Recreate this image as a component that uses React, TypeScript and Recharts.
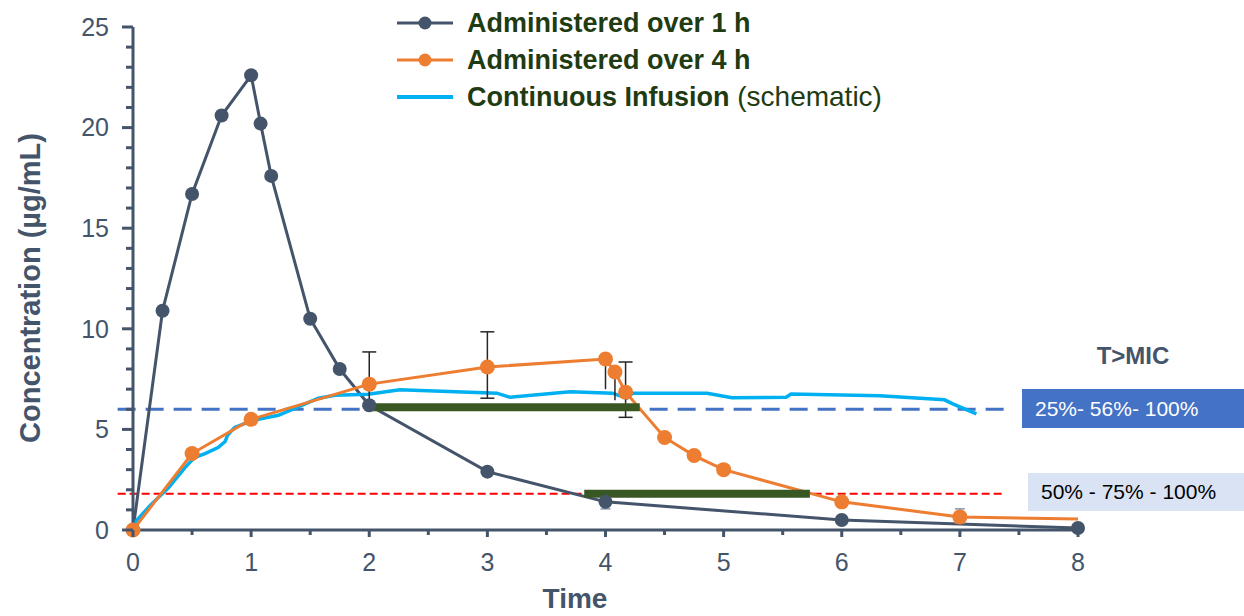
import React from 'react';
import { LineChart, Line, XAxis, YAxis, ReferenceLine, ErrorBar } from 'recharts';

// 1 h infusion
const oneHourTime = [0, 0.25, 0.5, 0.75, 1, 1.08, 1.17, 1.5, 1.75, 2, 3, 4, 6, 8];
const oneHourConc = [0, 10.9, 16.7, 20.6, 22.6, 20.2, 17.6, 10.5, 8.0, 6.2, 2.9, 1.4, 0.5, 0.1];
const oneHourErr = [null, null, null, null, null, null, null, null, null, null, null, [0.35, 0.35], null, null];

// 4 h infusion
const fourHourTime = [0, 0.5, 1, 2, 3, 4, 4.08, 4.17, 4.5, 4.75, 5, 6, 7, 8];
const fourHourConc = [0, 3.8, 5.5, 7.25, 8.1, 8.5, 7.85, 6.85, 4.6, 3.7, 3.0, 1.4, 0.65, 0.55];
const fourHourErrCap = [null, null, null, [1.1, 1.6], [1.55, 1.75], null, null, [1.25, 1.5], null, null, null, null, null, null];
const fourHourErrLine = [null, null, null, null, null, [1.5, 0], [1.4, 0], null, null, null, null, null, null, null];
const fourHourErrGray = [null, null, null, null, null, null, null, null, null, null, null, null, [0.3, 0.4], null];

// continuous infusion (schematic)
const infusionTime = [0, 0.02, 0.15, 0.3, 0.44, 0.52, 0.61, 0.72, 0.78, 0.8, 0.86, 0.95, 1.06, 1.23, 1.37, 1.57, 1.71, 1.99, 2.26, 3.08, 3.19, 3.7, 4.06, 4.18, 4.23, 4.71, 4.86, 5.07, 5.53, 5.57, 6.32, 6.87, 6.94, 7.14];
const infusionConc = [0, 0.4, 1.25, 2.1, 3.1, 3.6, 3.8, 4.1, 4.4, 4.7, 5.1, 5.3, 5.5, 5.7, 6.05, 6.55, 6.7, 6.75, 6.97, 6.8, 6.6, 6.87, 6.8, 6.55, 6.8, 6.8, 6.8, 6.57, 6.6, 6.76, 6.67, 6.47, 6.27, 5.77];

// T>MIC bars
const micHighTime = [1.97, 4.29];
const micHighConc = [6.1, 6.1];
const micLowTime = [3.82, 5.73];
const micLowConc = [1.8, 1.8];

const micHigh = 6.0;
const micLow = 1.8;
const micLineStart = -0.13;
const micHighEnd = 7.42;
const micLowEnd = 7.38;

const xTicks = [0, 0.5, 1, 1.5, 2, 2.5, 3, 3.5, 4, 4.5, 5, 5.5, 6, 6.5, 7, 7.5, 8];
const yTicks = Array.from({ length: 26 }, (_, i) => i);

const tmicLabels = ['25%- 56%- 100%', '50% - 75% - 100%'];

const SLATE = '#44546A';
const ORANGE = '#ED7D31';
const CYAN = '#00B0F0';
const GREEN = '#385723';
const FONT = '"Liberation Sans", Arial, sans-serif';

const toPoints = (t: number[], c: number[], extra: Record<string, any[]> = {}) =>
  t.map((x, i) => {
    const p: any = { t: x, c: c[i] };
    Object.keys(extra).forEach((k) => {
      p[k] = extra[k][i];
    });
    return p;
  });

const oneHourData = toPoints(oneHourTime, oneHourConc, { err: oneHourErr });
const fourHourData = toPoints(fourHourTime, fourHourConc, {
  errCap: fourHourErrCap,
  errLine: fourHourErrLine,
  errGray: fourHourErrGray,
});
const infusionData = toPoints(infusionTime, infusionConc);
const micHighData = toPoints(micHighTime, micHighConc);
const micLowData = toPoints(micLowTime, micLowConc);

const legendItems = [
  { name: 'Administered over 1 h', extra: '', color: SLATE, marker: true },
  { name: 'Administered over 4 h', extra: '', color: ORANGE, marker: true },
  { name: 'Continuous Infusion', extra: ' (schematic)', color: CYAN, marker: false },
];

const YTick = (props: any) => {
  const { x, y, payload } = props;
  const major = payload.value % 5 === 0;
  return (
    <g>
      <line x1={x} x2={x - (major ? 11 : 7)} y1={y} y2={y} stroke={SLATE} strokeWidth={3} />
      {major && (
        <text x={x - 24} y={y} dy="0.35em" textAnchor="end" fontSize={25} fill={SLATE} fontFamily={FONT}>
          {payload.value}
        </text>
      )}
    </g>
  );
};

const XTick = (props: any) => {
  const { x, y, payload } = props;
  const major = Number.isInteger(payload.value);
  return (
    <g>
      <line x1={x} x2={x} y1={y} y2={y + (major ? 7 : 5)} stroke={SLATE} strokeWidth={3} />
      {major && (
        <text x={x} y={y + 32} dy="0.35em" textAnchor="middle" fontSize={25} fill={SLATE} fontFamily={FONT}>
          {payload.value}
        </text>
      )}
    </g>
  );
};

const App: React.FC = () => {
  return (
    <div style={{ position: 'absolute', left: 0, top: 0, width: 1244, height: 616, background: '#fff', fontFamily: FONT }}>
      <LineChart width={1244} height={616} margin={{ top: 27, right: 166, bottom: 0, left: 0 }}>
        <XAxis
          type="number"
          dataKey="t"
          domain={[0, 8]}
          ticks={xTicks}
          tick={<XTick />}
          tickLine={false}
          tickSize={0}
          tickMargin={0}
          interval={0}
          height={86}
          axisLine={{ stroke: SLATE, strokeWidth: 3 }}
          label={{
            content: () => (
              <text x={575} y={598} dy="0.35em" textAnchor="middle" fontSize={28} fontWeight="bold" fill={SLATE} fontFamily={FONT}>
                Time
              </text>
            ),
          }}
        />
        <YAxis
          type="number"
          domain={[0, 25]}
          ticks={yTicks}
          tick={<YTick />}
          tickLine={false}
          tickSize={0}
          tickMargin={0}
          interval={0}
          width={133}
          axisLine={{ stroke: SLATE, strokeWidth: 3 }}
          label={{
            content: () => (
              <text
                transform="translate(30, 288) rotate(-90)"
                dy="0.35em"
                textAnchor="middle"
                fontSize={29}
                fontWeight="bold"
                fill={SLATE}
                fontFamily={FONT}
              >
                Concentration (µg/mL)
              </text>
            ),
          }}
        />
        <ReferenceLine
          segment={[{ x: micLineStart, y: micHigh }, { x: micHighEnd, y: micHigh }]}
          stroke="#4472C4"
          strokeWidth={3}
          strokeDasharray="18 10"
          ifOverflow="visible"
        />
        <ReferenceLine
          segment={[{ x: micLineStart, y: micLow }, { x: micLowEnd, y: micLow }]}
          stroke="#FF0000"
          strokeWidth={2}
          strokeDasharray="8 4"
          ifOverflow="visible"
        />
        <Line
          data={oneHourData}
          dataKey="c"
          stroke={SLATE}
          strokeWidth={3}
          dot={{ r: 7, fill: SLATE, stroke: 'none' }}
          isAnimationActive={false}
        >
          <ErrorBar dataKey="err" width={5} stroke="#8497B0" strokeWidth={1.5} direction="y" />
        </Line>
        <Line
          data={infusionData}
          dataKey="c"
          stroke={CYAN}
          strokeWidth={3.5}
          dot={false}
          isAnimationActive={false}
        />
        <Line
          data={fourHourData}
          dataKey="c"
          stroke={ORANGE}
          strokeWidth={3}
          dot={(p: any) =>
            p.index === fourHourTime.length - 1 ? (
              <g key={`d-${p.index}`} />
            ) : (
              <circle key={`d-${p.index}`} cx={p.cx} cy={p.cy} r={7.5} fill={ORANGE} />
            )
          }
          isAnimationActive={false}
        >
          <ErrorBar dataKey="errCap" width={7} stroke="#262626" strokeWidth={1.5} direction="y" />
          <ErrorBar dataKey="errLine" width={0} stroke="#262626" strokeWidth={1.5} direction="y" />
          <ErrorBar dataKey="errGray" width={5} stroke="#8497B0" strokeWidth={1.5} direction="y" />
        </Line>
        <Line data={micHighData} dataKey="c" stroke={GREEN} strokeWidth={8} dot={false} isAnimationActive={false} />
        <Line data={micLowData} dataKey="c" stroke={GREEN} strokeWidth={8} dot={false} isAnimationActive={false} />
      </LineChart>

      {/* legend */}
      <div style={{ position: 'absolute', left: 396, top: 4 }}>
        {legendItems.map((item) => (
          <div key={item.name} style={{ display: 'flex', alignItems: 'center', height: 37 }}>
            <svg width={58} height={16} style={{ marginRight: 13 }}>
              <line x1={1} x2={57} y1={8} y2={8} stroke={item.color} strokeWidth={item.marker ? 3 : 4} />
              {item.marker && <circle cx={29} cy={8} r={6.5} fill={item.color} />}
            </svg>
            <span style={{ fontSize: 27, color: '#1F3B12', whiteSpace: 'nowrap' }}>
              <b>{item.name}</b>
              <span style={{ fontSize: 28 }}>{item.extra}</span>
            </span>
          </div>
        ))}
      </div>

      {/* T>MIC panel */}
      <div style={{ position: 'absolute', left: 1073, top: 340, width: 120, textAlign: 'center', fontSize: 24, fontWeight: 'bold', color: SLATE, lineHeight: '32px' }}>
        T&gt;MIC
      </div>
      <div style={{ position: 'absolute', left: 1022, top: 389, width: 209, height: 39, paddingLeft: 13, background: '#4472C4', color: '#fff', fontSize: 21, lineHeight: '39px', whiteSpace: 'nowrap' }}>
        {tmicLabels[0]}
      </div>
      <div style={{ position: 'absolute', left: 1028, top: 473, width: 203, height: 38, paddingLeft: 13, background: '#DAE3F3', color: '#000', fontSize: 21, lineHeight: '38px', whiteSpace: 'nowrap' }}>
        {tmicLabels[1]}
      </div>
    </div>
  );
};

export default App;
